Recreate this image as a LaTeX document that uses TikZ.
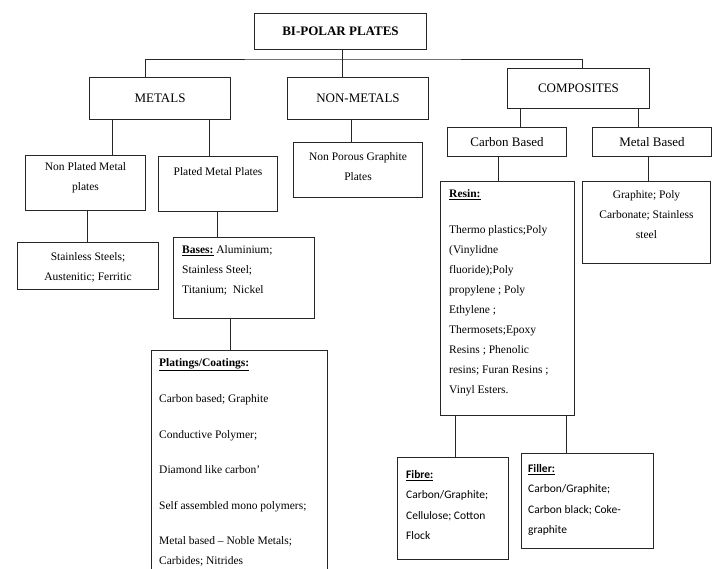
\documentclass[tikz,border=0pt]{standalone}
\usepackage{fontspec}
\setmainfont{Liberation Serif}
\newfontfamily\calibrifont{Carlito}
\usepackage{tikz}
\usepackage{xcolor}
\usetikzlibrary{positioning}
\definecolor{edge}{HTML}{262626}

\tikzset{
    box/.style={draw=edge, line width=1pt, anchor=north west, inner sep=0pt},
    link/.style={draw=edge, line width=1pt},
    txt/.style={font=\fontsize{11.5}{20}\selectfont, inner sep=0pt, align=center},
    ltxt/.style={font=\fontsize{11.5}{20}\selectfont, inner sep=0pt, align=left},
    ctxt/.style={font=\calibrifont\fontsize{11.5}{20.5}\selectfont, inner sep=0pt, align=left},
    capt/.style={font=\fontsize{13}{16}\selectfont},
}

\begin{document}
\begin{tikzpicture}[x=1pt,y=-1pt]
    \useasboundingbox (0,0) rectangle (715,568);
    \clip (0,0) rectangle (715,568);

    % top level
    \node[box, capt, minimum width=172pt, minimum height=36pt] (title) at (254,13) {\textbf{BI-POLAR PLATES}};
    \node[box, capt, minimum width=141pt, minimum height=42pt] (metals) at (89,77) {METALS};
    \node[box, capt, minimum width=141pt, minimum height=42pt] (nonmetals) at (287,77) {NON-METALS};
    \node[box, capt, minimum width=142pt, minimum height=40pt] (comp) at (507,68) {COMPOSITES};

    % metals
    \node[box, minimum width=120pt, minimum height=55pt] (nonplated) at (25,155) {};
    \node[txt, below=7pt of nonplated.north] (nonplatedtxt) {Non Plated Metal\\plates};
    \node[box, minimum width=119pt, minimum height=55pt] (plated) at (158,156) {};
    \node[txt, below=11pt of plated.north] (platedtxt) {Plated Metal Plates};
    \node[box, minimum width=141pt, minimum height=47pt] (stainless) at (17,242) {};
    \node[txt, below=10pt of stainless.north] (stainlesstxt) {Stainless Steels;\\Austenitic; Ferritic};
    \node[box, minimum width=141pt, minimum height=81pt] (bases) at (173,237) {};
    \node[ltxt, below right=8pt and 9pt of bases.north west] (basestxt)
        {\underline{\textbf{Bases:}} Aluminium;\\Stainless Steel;\\Titanium;\ \ Nickel};
    \node[box, minimum width=176pt, minimum height=240pt] (platings) at (151,350) {};
    \node[ltxt, below right=8pt and 8pt of platings.north west] (platingstxt)
        {\underline{\textbf{Platings/Coatings:}}\\[16pt]
         Carbon based; Graphite\\[16pt]
         Conductive Polymer;\\[15pt]
         Diamond like carbon’\\[16pt]
         Self assembled mono polymers;\\[15pt]
         Metal based -- Noble Metals;\\
         Carbides; Nitrides};

    % non-metals
    \node[box, minimum width=129pt, minimum height=55pt] (nonporous) at (293,142) {};
    \node[txt, below=10pt of nonporous.north] (nonporoustxt) {Non Porous Graphite\\Plates};

    % composites
    \node[box, capt, minimum width=119pt, minimum height=29pt] (carbon) at (447,127) {Carbon Based};
    \node[box, capt, minimum width=119pt, minimum height=29pt] (metalb) at (592,127) {Metal Based};
    \node[box, minimum width=134pt, minimum height=234pt] (resin) at (440,181) {};
    \node[ltxt, below right=8pt and 9pt of resin.north west] (resintxt)
        {\underline{\textbf{Resin:}}\\[16pt]
         Thermo plastics;Poly\\(Vinylidne\\fluoride);Poly\\propylene ; Poly\\Ethylene ;\\
         Thermosets;Epoxy\\Resins ; Phenolic\\resins; Furan Resins ;\\Vinyl Esters.};
    \node[box, minimum width=128pt, minimum height=82pt] (graph) at (582,181) {};
    \node[txt, below=9pt of graph.north] (graphtxt) {Graphite; Poly\\Carbonate; Stainless\\steel};
    \node[box, minimum width=111pt, minimum height=102pt] (fibre) at (397,457) {};
    \node[ctxt, below right=13pt and 9pt of fibre.north west] (fibretxt)
        {\underline{\textbf{Fibre:}}\\Carbon/Graphite;\\Cellulose; Cotton\\Flock};
    \node[box, minimum width=132pt, minimum height=95pt] (filler) at (521,453) {};
    \node[ctxt, below right=11pt and 7pt of filler.north west] (fillertxt)
        {\underline{\textbf{Filler:}}\\Carbon/Graphite;\\Carbon black; Coke-\\graphite};

    % connectors
    \coordinate (bus) at (342,59);
    \draw[link] (title.south -| bus) -- (bus);
    \draw[link] (metals.north -| 145,0) |- (bus) -| (comp.north -| 582,0);
    \draw[link] (bus) -- (nonmetals.north -| bus);
    \draw[link] (metals.south -| 112,0) -- (nonplated.north -| 112,0);
    \draw[link] (metals.south -| 209,0) -- (plated.north -| 209,0);
    \draw[link] (nonmetals.south -| 351,0) -- (nonporous.north -| 351,0);
    \draw[link] (nonplated.south -| 87,0) -- (stainless.north -| 87,0);
    \draw[link] (plated.south -| 217,0) -- (bases.north -| 217,0);
    \draw[link] (bases.south -| 230,0) -- (platings.north -| 230,0);
    \draw[link] (comp.south -| 520,0) -- (carbon.north -| 520,0);
    \draw[link] (comp.south -| 638,0) -- (metalb.north -| 638,0);
    \draw[link] (carbon.south -| 498,0) -- (resin.north -| 498,0);
    \draw[link] (metalb.south -| 648,0) -- (graph.north -| 648,0);
    \draw[link] (resin.south -| 455,0) -- (fibre.north -| 455,0);
    \draw[link] (resin.south -| 566,0) -- (filler.north -| 566,0);
\end{tikzpicture}
\end{document}
